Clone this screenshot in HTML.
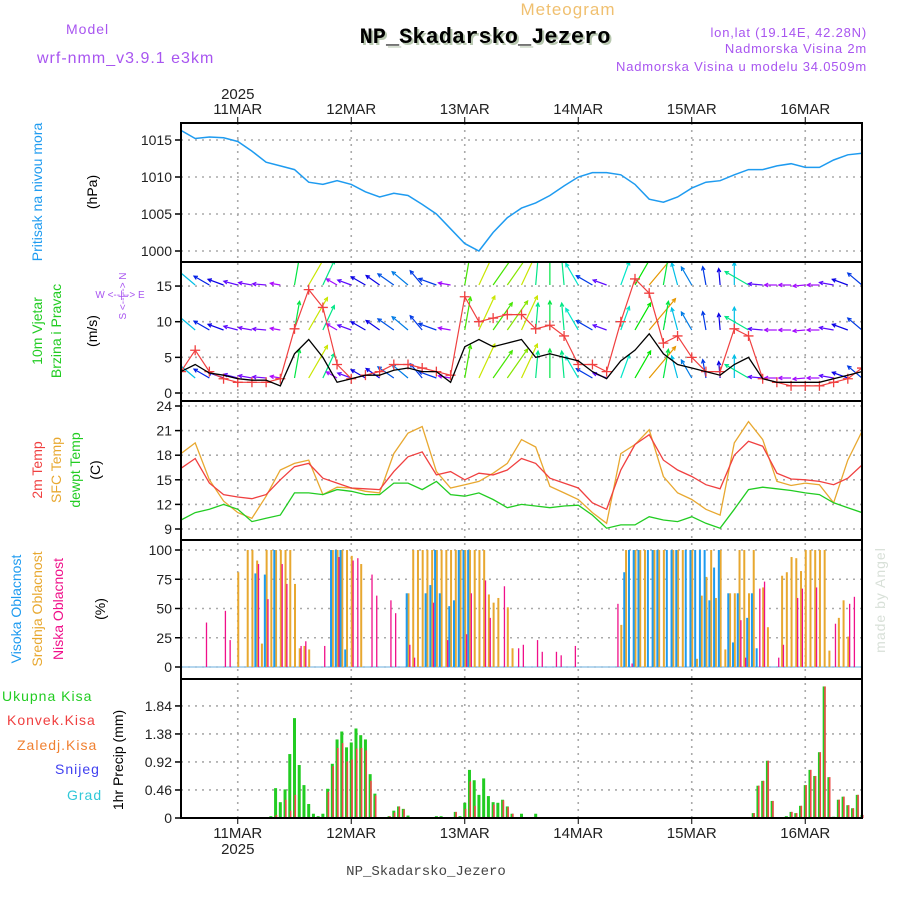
<!DOCTYPE html>
<html><head><meta charset="utf-8"><style>
html,body{margin:0;padding:0;background:#fff;}
svg{display:block;font-family:"Liberation Sans",sans-serif;}
</style></head><body>
<svg id="chart" width="900" height="900" viewBox="0 0 900 900" xmlns="http://www.w3.org/2000/svg">
<rect width="900" height="900" fill="#fff"/>
<g id="header">
<text x="568" y="15" fill="#f0c070" font-size="17" text-anchor="middle" letter-spacing="1">Meteogram</text>
<text x="66" y="34" fill="#a855f0" font-size="14" letter-spacing="1">Model</text>
<text x="37" y="63" fill="#a855f0" font-size="16" letter-spacing="1">wrf-nmm_v3.9.1 e3km</text>
<text x="487" y="45" fill="#b8c8b0" font-size="22" font-weight="bold" font-family="Liberation Mono,monospace" text-anchor="middle">NP_Skadarsko_Jezero</text>
<text x="485" y="43" fill="#000" font-size="22" font-weight="bold" font-family="Liberation Mono,monospace" text-anchor="middle">NP_Skadarsko_Jezero</text>
<text x="867" y="37" fill="#a855f0" font-size="13" text-anchor="end" letter-spacing="0.8">lon,lat (19.14E, 42.28N)</text>
<text x="867" y="53" fill="#a855f0" font-size="13" text-anchor="end" letter-spacing="0.8">Nadmorska Visina 2m</text>
<text x="867" y="71" fill="#a855f0" font-size="13" text-anchor="end" letter-spacing="0.8">Nadmorska Visina u modelu 34.0509m</text>
</g>
<g id="labels" font-size="14">
<text transform="translate(42,192) rotate(-90)" fill="#1e9bf0" text-anchor="middle">Pritisak na nivou mora</text>
<text transform="translate(97,192) rotate(-90)" fill="#000" text-anchor="middle">(hPa)</text>
<text transform="translate(42,331) rotate(-90)" fill="#22cc22" text-anchor="middle">10m Vjetar</text>
<text transform="translate(61,331) rotate(-90)" fill="#22cc22" text-anchor="middle">Brzina i Pravac</text>
<text transform="translate(97,331) rotate(-90)" fill="#000" text-anchor="middle">(m/s)</text>
<text x="120" y="298" fill="#a855f0" font-size="10" text-anchor="middle">W  &lt;--|--&gt;  E</text>
<text transform="translate(126,296) rotate(-90)" fill="#a855f0" font-size="10" text-anchor="middle">S &lt;--|--&gt; N</text>
<text transform="translate(42,470) rotate(-90)" fill="#f04040" text-anchor="middle">2m Temp</text>
<text transform="translate(61,470) rotate(-90)" fill="#e8a830" text-anchor="middle">SFC Temp</text>
<text transform="translate(80,470) rotate(-90)" fill="#22cc22" text-anchor="middle">dewpt Temp</text>
<text transform="translate(100,470) rotate(-90)" fill="#000" text-anchor="middle">(C)</text>
<text transform="translate(21,609) rotate(-90)" fill="#1e9bf0" text-anchor="middle">Visoka Oblacnost</text>
<text transform="translate(42,609) rotate(-90)" fill="#e8a830" text-anchor="middle">Srednja Oblacnost</text>
<text transform="translate(63,609) rotate(-90)" fill="#f0108a" text-anchor="middle">Niska Oblacnost</text>
<text transform="translate(105,609) rotate(-90)" fill="#000" text-anchor="middle">(%)</text>
<text x="2" y="701" fill="#22cc22" letter-spacing="1">Ukupna Kisa</text>
<text x="7" y="725" fill="#f04040" letter-spacing="1">Konvek.Kisa</text>
<text x="17" y="750" fill="#f08030" letter-spacing="1">Zaledj.Kisa</text>
<text x="55" y="774" fill="#4040f0" letter-spacing="1">Snijeg</text>
<text x="67" y="800" fill="#30c8d8" letter-spacing="1">Grad</text>
<text transform="translate(123,760) rotate(-90)" fill="#000" text-anchor="middle">1hr Precip (mm)</text>
<text transform="translate(885,600) rotate(-90)" fill="#d8e0d8" font-size="14" text-anchor="middle" letter-spacing="1">made by Angel</text>
<text x="426" y="875" fill="#444" font-size="14" font-family="Liberation Mono,monospace" text-anchor="middle">NP_Skadarsko_Jezero</text>
</g>
<g id="plot"></g>
</svg>
<script>
const dayLabels = ["11MAR","12MAR","13MAR","14MAR","15MAR","16MAR"];
const dayHours = [12,36,60,84,108,132];
const pressure = [1016.3,1015.2,1015.4,1015.3,1014.8,1013.5,1012.0,1011.5,1011.0,1009.3,1009.0,1009.5,1009.0,1008.0,1007.3,1007.8,1007.5,1006.3,1005.0,1003.0,1001.0,1000.0,1002.5,1004.5,1005.8,1006.5,1007.5,1008.8,1010.0,1010.6,1010.6,1010.3,1009.0,1007.0,1006.6,1007.3,1008.5,1009.3,1009.5,1010.3,1011.0,1011.0,1011.5,1011.8,1011.3,1011.3,1012.3,1013.0,1013.2];
const pressureTicks = [1000,1005,1010,1015];
const windSpeed = [3.0,4.0,2.8,2.5,2.0,1.8,1.8,1.0,5.5,7.5,5.0,1.5,2.0,2.5,2.5,3.2,3.5,3.0,3.0,1.5,6.5,7.5,6.5,7.0,7.5,5.0,5.5,5.0,4.5,3.0,2.0,4.5,6.0,8.3,5.5,4.0,3.5,3.0,2.5,4.0,5.0,2.0,1.5,1.5,1.5,1.5,2.0,2.5,3.0];
const windGust = [3,6,3,2,1.5,1.5,1.5,2,9,14.5,12,4,2,2.5,3,4,4,3.5,3,2.5,13.5,10,10.5,11,11,9,9.5,8,4,4,3,10,16,14,7,8,5,3,3,9,8,2,1.5,1,1,1,1.5,2,3.5];
const windDir = [150,130,120,110,105,100,95,100,190,210,205,120,110,120,125,125,130,140,110,100,190,205,215,215,205,185,180,175,150,120,110,200,210,220,190,165,150,170,175,180,120,95,90,90,85,90,100,110,130];
const windTicks = [0,5,10,15];
const temp2m = [16.4,17.6,14.6,13.2,12.9,12.7,13.2,15.0,16.6,17.0,15.2,14.6,14.0,13.9,13.8,16.0,17.8,18.4,15.6,16.0,15.0,15.8,15.6,16.2,17.6,17.0,15.2,14.6,14.0,12.2,11.4,16.2,19.3,20.5,17.4,16.2,15.4,14.4,13.9,18.0,19.7,19.1,15.8,15.1,15.0,14.8,14.4,15.2,16.8];
const tempSfc = [18.2,19.5,15.0,12.4,11.0,10.3,13.0,16.2,17.0,17.4,13.2,14.1,14.0,13.6,13.4,18.2,20.7,21.5,16.0,14.0,14.4,14.8,15.8,17.0,19.9,19.0,14.2,13.4,12.6,11.0,9.7,18.2,19.3,21.1,15.4,13.4,12.6,11.4,10.7,19.5,22.1,19.9,14.8,14.3,14.6,14.4,12.2,17.4,20.9];
const tempDew = [10.1,11.0,11.4,12.0,11.4,9.9,10.3,10.7,13.4,13.4,13.2,13.8,13.6,13.2,13.2,14.6,14.6,13.8,14.8,13.2,13.0,13.4,12.6,11.6,12.0,11.8,11.6,11.8,11.9,10.7,9.1,9.5,9.5,10.5,10.1,9.9,10.5,9.7,9.1,11.4,13.8,14.1,13.9,13.7,13.4,13.2,12.2,11.6,11.0];
const tempTicks = [9,12,15,18,21,24];
const highHour = [16,18,20,32,33,34,35,48,52,53,54,55,57,58,59,60,61,94,95,96,97,99,100,101,103,104,105,107,108,109,110,111,112,113,114,116,117,118,120,121,122];
const highPct = [80,79,100,100,100,100,15,63,63,70,100,63,52,57,100,100,100,81,100,100,100,100,100,100,100,100,100,100,100,100,100,100,57,85,100,63,21,63,42,63,16];
const midHour = [12,14,15,16,17,18,19,20,21,22,23,24,25,26,27,32,33,34,35,36,38,48,49,50,51,52,53,54,55,56,57,58,59,60,61,62,63,64,65,66,67,69,70,93,94,96,97,98,100,101,102,104,105,106,108,109,110,111,112,113,114,115,116,117,118,119,120,121,123,124,127,128,129,130,131,132,133,134,135,136,137,139,140,141];
const midPct = [81,100,100,91,20,100,100,100,100,100,100,71,16,18,15,100,100,100,100,95,88,63,100,100,100,100,100,100,100,100,100,100,100,100,100,100,100,100,62,55,59,51,16,36,100,100,100,100,100,100,100,100,100,100,100,7,61,77,100,59,100,15,63,63,100,100,63,100,68,34,78,81,94,93,82,100,100,100,100,100,14,42,57,26];
const lowHour = [5,9,10,16,18,21,22,25,26,30,33,36,37,40,41,44,45,48,49,53,56,60,61,64,65,68,71,72,75,76,79,80,83,92,95,118,119,122,123,126,127,130,131,134,138,141,142];
const lowPct = [38,48,23,88,58,88,71,18,22,18,94,91,93,79,61,57,46,19,8,55,23,28,63,74,42,69,16,19,23,13,13,10,18,54,3,40,8,67,73,8,19,59,67,68,37,54,60];
const cloudTicks = [0,25,50,75,100];
const totalHour = [19,20,21,22,23,24,25,26,27,28,29,30,31,32,33,34,35,36,37,38,39,40,41,44,45,46,47,48,54,55,58,59,60,61,62,63,64,65,66,67,68,69,70,72,75,121,122,123,124,125,128,129,130,131,132,133,134,135,136,137,138,139,140,141,142,143,144];
const totalMm = [0.03,0.49,0.26,0.47,1.05,1.64,0.87,0.54,0.23,0.07,0.03,0.07,0.48,0.89,1.29,1.42,1.16,1.24,1.47,1.36,1.29,0.72,0.4,0.03,0.12,0.19,0.15,0.04,0.03,0.03,0.1,0.03,0.25,0.79,0.62,0.38,0.65,0.36,0.26,0.25,0.3,0.19,0.07,0.07,0.07,0.08,0.53,0.61,0.94,0.28,0.03,0.1,0.08,0.2,0.54,0.79,0.69,1.08,2.16,0.67,0.02,0.3,0.35,0.21,0.16,0.38,0.05];
const convHour = [20,22,23,24,31,32,33,34,35,36,37,38,39,40,41,44,45,46,47,58,60,61,62,66,68,69,70,121,122,123,124,125,129,130,131,132,133,134,135,136,137,139,140,141,142,143,144];
const convMm = [0.05,0.3,0.12,0.38,0.43,0.85,1.15,1.23,0.93,0.96,1.14,1.15,1.11,0.61,0.37,0.03,0.09,0.19,0.14,0.1,0.15,0.6,0.2,0.22,0.29,0.18,0.07,0.08,0.53,0.61,0.94,0.28,0.1,0.08,0.2,0.54,0.79,0.69,1.08,2.16,0.67,0.3,0.35,0.21,0.16,0.38,0.05];
const precipTicks = ["0","0.46","0.92","1.38","1.84"];

const X0=181, X1=862, HOURS=144;
const xH = h => X0 + h*(X1-X0)/HOURS;
const x3 = i => xH(i*3);
const yP = p => 140 + (1015-p)*7.4;
const yW = v => 393 - v*7.13;
const yT = t => 406 + (24-t)*8.2;
const yC = c => 667 - c*1.17;
const yR = r => 818 - r*60.9;
const panels = [[123,262],[262,401],[401,540],[540,679],[679,818]];

const NS="http://www.w3.org/2000/svg";
const plot=document.getElementById('plot');
function mk(tag,attrs,parent){const e=document.createElementNS(NS,tag);for(const k in attrs)e.setAttribute(k,attrs[k]);(parent||plot).appendChild(e);return e;}

const defs=mk('defs',{});
panels.forEach((p,i)=>{const c=mk('clipPath',{id:'clip'+i},defs);mk('rect',{x:X0,y:p[0],width:X1-X0,height:p[1]-p[0]},c);});

dayHours.forEach((h,i)=>{
  const g=mk('line',{x1:xH(h),x2:xH(h),y1:123,y2:818,stroke:'#aaa','stroke-width':1.6,'stroke-dasharray':'2,5'});
  
  
  const t1=mk('line',{x1:xH(h),x2:xH(h),y1:117,y2:123,stroke:'#000','stroke-width':1});
  
  
  const t2=mk('line',{x1:xH(h),x2:xH(h),y1:818,y2:824,stroke:'#000','stroke-width':1});
  
  
  const lt=mk('text',{x:xH(h),y:114,'font-size':15,'text-anchor':'middle',fill:'#222'});lt.textContent=dayLabels[i];
  
  
  const lb=mk('text',{x:xH(h),y:838,'font-size':15,'text-anchor':'middle',fill:'#222'});lb.textContent=dayLabels[i];
  
  
});
const yr1=mk('text',{x:xH(12),y:99,'font-size':15,'text-anchor':'middle',fill:'#222'});yr1.textContent='2025';


const yr2=mk('text',{x:xH(12),y:854,'font-size':15,'text-anchor':'middle',fill:'#222'});yr2.textContent='2025';



function yAxis(ticks,fn,name,grid,labels){
  ticks.forEach((v,i)=>{
    const y=fn(+v);
    if(grid){const gl=mk('line',{x1:X0,x2:X1,y1:y,y2:y,stroke:'#aaa','stroke-width':1.6,'stroke-dasharray':'2,5'});
      
      }
    const tk=mk('line',{x1:X0-6,x2:X0,y1:y,y2:y,stroke:'#000','stroke-width':1.5});
    
    
    const tl=mk('text',{x:X0-9,y:y+5,'font-size':14,'text-anchor':'end',fill:'#222'});tl.textContent=labels?labels[i]:v;
    
    
  });
}
yAxis(pressureTicks,yP,'pressure',true);
yAxis(windTicks,yW,'wind',true);
yAxis(tempTicks,yT,'temp',true);
yAxis(cloudTicks,yC,'cloud',true);
yAxis(precipTicks,yR,'precip',true,precipTicks);

function line(arr,fx,fy,color,w,clip){
  const d=arr.map((v,i)=>(i?'L':'M')+fx(i).toFixed(1)+','+fy(v).toFixed(1)).join('');
  return mk('path',{d:d,fill:'none',stroke:color,'stroke-width':w,'clip-path':'url(#clip'+clip+')'});
}
const pl=line(pressure,x3,yP,'#1e9bf0',1.5,0);



function hueFor(s){return Math.max(-30,Math.min(280,330-35*s));}
[285,330,378].forEach((base)=>{
  windDir.forEach((dir,i)=>{
    const s=windSpeed[i];
    const L=6+s*4.2, a=(dir+180)*Math.PI/180;
    const x=x3(i), x2=x+L*Math.sin(a), y2=base-L*Math.cos(a);
    const col='hsl('+hueFor(s)+',100%,'+(s<2.5?'52%':'45%')+')';
    const ar=mk('g',{'clip-path':'url(#clip1)'});
    
    
    mk('line',{x1:x,y1:base,x2:x2,y2:y2,stroke:col,'stroke-width':1.2},ar);
    const h1=a+Math.PI*0.85,h2=a-Math.PI*0.85;
    mk('polyline',{points:(x2+4*Math.sin(h1))+','+(y2-4*Math.cos(h1))+' '+x2+','+y2+' '+(x2+4*Math.sin(h2))+','+(y2-4*Math.cos(h2)),fill:'none',stroke:col,'stroke-width':1.2},ar);
  });
});
const gl=line(windGust,x3,yW,'#f04040',1.2,1);


windGust.forEach((v,i)=>{
  const m=mk('path',{d:'M'+(x3(i)-5)+','+yW(v)+'h10M'+x3(i)+','+(yW(v)-5)+'v10',stroke:'#f04040','stroke-width':1.3,'clip-path':'url(#clip1)'});
  
  
});
const sl=line(windSpeed,x3,yW,'#000',1.3,1);



const tS=line(tempSfc,x3,yT,'#e8a830',1.3,2);


const t2=line(temp2m,x3,yT,'#f04040',1.3,2);


const tD=line(tempDew,x3,yT,'#22cc22',1.3,2);



const cb=mk('line',{x1:X0,x2:X1,y1:667,y2:667,stroke:'#9cc8e8','stroke-width':1.5});


function bars(hours,vals,fy,off,w,color,name){
  hours.forEach((h,i)=>{
    const y=fy(vals[i]), y0=fy(0);
    const b=mk('rect',{x:xH(h)+off,y:y,width:w,height:Math.max(0.5,y0-y),fill:color});
    
    
  });
}
bars(midHour,midPct,yC,-0.5,2,'#e8a830','mid-cloud-bar');
bars(highHour,highPct,yC,-2.3,2,'#1e9bf0','high-cloud-bar');
bars(lowHour,lowPct,yC,1.2,1.3,'#f0108a','low-cloud-bar');
bars(totalHour,totalMm,yR,-1.5,3,'#22cc22','total-precip-bar');
bars(convHour,convMm,yR,0,1.6,'#f04848','convective-precip-bar');

panels.forEach((p)=>{
  const f=mk('rect',{x:X0,y:p[0],width:X1-X0,height:p[1]-p[0],fill:'none',stroke:'#000','stroke-width':2});
  
  
});
</script>
</body></html>
